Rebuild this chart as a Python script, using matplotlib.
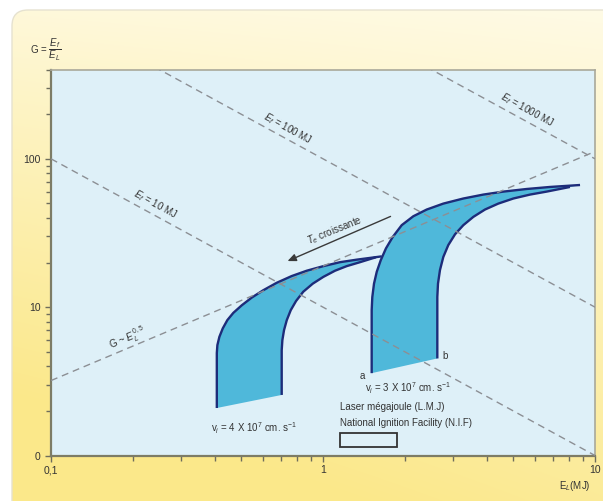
import numpy as np
import matplotlib
matplotlib.use("Agg")
import matplotlib.pyplot as plt
from matplotlib.patches import FancyBboxPatch, Rectangle

plt.rcParams["font.family"] = ["Liberation Sans", "DejaVu Sans"]
plt.rcParams["mathtext.fontset"] = "custom"
plt.rcParams["mathtext.rm"] = "Liberation Sans"
plt.rcParams["mathtext.it"] = "Liberation Sans:italic"
plt.rcParams["mathtext.bf"] = "Liberation Sans:bold"

# ---- data -------------------------------------------------------------
# fusion energy iso-lines (MJ): G = E_f / E_L
fusion_energies = [10, 100, 1000]
fusion_labels = [r"$E_f$ = 10 MJ", r"$E_f$ = 100 MJ", r"$E_f$ = 1000 MJ"]

# scaling reference line G ~ E_L^a (end points)
scaling_E = [0.1, 10.0]
scaling_G = [3.2, 112.0]

# v_i = 4e7 cm/s band
band1_outer_E = [0.407, 0.407, 0.409, 0.416, 0.428, 0.445, 0.468, 0.503, 0.547,
                 0.603, 0.676, 0.767, 0.871, 1.003, 1.155, 1.330, 1.644]
band1_outer_G = [2.09, 4.90, 5.55, 6.31, 7.19, 8.18, 9.15, 10.3, 11.6,
                 13.0, 14.6, 16.2, 17.6, 18.9, 20.1, 20.9, 22.0]
band1_inner_E = [0.705, 0.705, 0.709, 0.719, 0.736, 0.761, 0.796, 0.846,
                 0.917, 1.003, 1.107, 1.222, 1.368, 1.566]
band1_inner_G = [2.56, 5.13, 6.00, 7.00, 8.18, 9.54, 11.0, 12.7,
                 14.4, 16.0, 17.6, 18.9, 20.1, 21.7]

# v_i = 3e7 cm/s band
band2_outer_E = [1.510, 1.510, 1.518, 1.540, 1.576, 1.630, 1.704, 1.804, 1.947,
                 2.148, 2.406, 2.769, 3.28, 3.885, 4.60, 5.61, 6.83, 8.81]
band2_outer_G = [3.59, 9.54, 11.7, 14.4, 17.3, 20.7, 24.9, 29.7, 35.7,
                 41.0, 45.5, 49.9, 54.0, 57.4, 60.1, 62.6, 64.6, 66.6]
band2_inner_E = [2.632, 2.632, 2.647, 2.692, 2.769, 2.888, 3.058, 3.28,
                 3.57, 3.94, 4.41, 5.01, 5.77, 6.64, 8.09]
band2_inner_G = [4.51, 11.7, 14.4, 17.8, 21.8, 26.2, 31.0, 35.7,
                 40.6, 45.5, 49.9, 54.0, 57.4, 60.1, 64.6]

x_ticks = [0.1, 1, 10]
x_ticklabels = ["0,1", "1", "10"]
y_ticks = [1, 10, 100]
y_ticklabels = ["0", "10", "100"]

# ---- figure -------------------------------------------------------------
W, H = 603, 501
fig = plt.figure(figsize=(W / 100, H / 100), dpi=100, facecolor="white")

# rounded yellow card behind everything
bg = fig.add_axes([0, 0, 1, 1], zorder=-5)
bg.set_xlim(0, W)
bg.set_ylim(0, H)
bg.axis("off")
yy, xx = np.mgrid[0:H, 0:W]
v = 1 - yy / H
h = xx / W
s = np.clip(0.85 * (1 - v) ** 0.9 + 0.25 * (1 - h) * (1 - v) + 0.12 * (1 - h), 0, 1)
c_light = np.array([255, 251, 232]) / 255
c_yellow = np.array([251, 232, 138]) / 255
img = c_light[None, None, :] * (1 - s[..., None]) + c_yellow[None, None, :] * s[..., None]
im = bg.imshow(img, extent=[0, W, 0, H], origin="upper", aspect="auto")
card = FancyBboxPatch((12, -30), W + 20, H - 10 + 30,
                      boxstyle="round,pad=0,rounding_size=16",
                      facecolor="none", edgecolor="#e6e2d0", lw=1.0)
bg.add_patch(card)
im.set_clip_path(card)

ax = fig.add_axes([51 / W, 45.5 / H, 544 / W, 386 / H])
ax.set_facecolor("#def0f8")
ax.set_xscale("log")
ax.set_yscale("log")
ax.set_xlim(0.1, 10)
ax.set_ylim(1, 400)

E = np.logspace(-1, 1, 200)
dash = dict(color="#8c8f94", lw=1.0, ls=(0, (5, 3.5)), zorder=4)
for ef in fusion_energies:
    ax.plot(E, ef / E, **dash)
ax.plot(scaling_E, scaling_G, **dash)

band_face = "#4fb8da"
band_edge = "#1d2c7a"

def draw_band(oE, oG, iE, iG):
    px = list(oE) + list(iE[::-1])
    py = list(oG) + list(iG[::-1])
    ax.fill(px, py, facecolor=band_face, edgecolor="none", zorder=2)
    ax.plot(oE, oG, color=band_edge, lw=1.7, zorder=3, solid_capstyle="butt")
    ax.plot(iE, iG, color=band_edge, lw=1.7, zorder=3, solid_capstyle="butt")

draw_band(band1_outer_E, band1_outer_G, band1_inner_E, band1_inner_G)
draw_band(band2_outer_E, band2_outer_G, band2_inner_E, band2_inner_G)

# axes styling
for side in ["left", "bottom"]:
    ax.spines[side].set_color("#7d7c66")
    ax.spines[side].set_linewidth(1.6)
for side in ["top", "right"]:
    ax.spines[side].set_color("#a9a89a")
    ax.spines[side].set_linewidth(1.2)

ax.set_xticks(x_ticks, x_ticklabels)
ax.set_yticks(y_ticks, y_ticklabels)
ax.xaxis.set_minor_locator(matplotlib.ticker.LogLocator(base=10, subs=np.arange(2, 10)))
ax.yaxis.set_minor_locator(matplotlib.ticker.LogLocator(base=10, subs=np.arange(2, 10)))
ax.xaxis.set_minor_formatter(matplotlib.ticker.NullFormatter())
ax.yaxis.set_minor_formatter(matplotlib.ticker.NullFormatter())
ax.tick_params(which="both", direction="out", color="#6e6d5c", width=1.0,
               labelsize=7.5, labelcolor="#333333")
ax.tick_params(which="major", length=4)
ax.tick_params(which="minor", length=3.5)
ax.tick_params(axis="x", pad=3)

txt = dict(color="#333333", fontsize=7, zorder=6)
ang_ef = -28.6
ax.text(0.241, 49.4, fusion_labels[0], rotation=ang_ef, ha="center", va="center",
        rotation_mode="anchor", **txt)
ax.text(0.744, 160, fusion_labels[1], rotation=ang_ef, ha="center", va="center",
        rotation_mode="anchor", **txt)
ax.text(5.62, 212, fusion_labels[2], rotation=ang_ef, ha="center", va="center",
        rotation_mode="anchor", **txt)
ax.text(0.192, 6.18, r"G ~ $E_L^{\,0,5}$", rotation=22.5, ha="center", va="center",
        rotation_mode="anchor", **txt)

ax.annotate("", xy=(0.725, 20.1), xytext=(1.81, 41.6),
            arrowprops=dict(arrowstyle="-|>,head_length=0.5,head_width=0.22",
                            color="#3a3a3a", lw=1.0), zorder=6)
ax.text(1.107, 33.0, r"$T_e$ croissante", rotation=22, ha="center", va="center",
        rotation_mode="anchor", **txt)

ax.text(1.40, 3.43, "a", ha="center", va="center", **txt)
ax.text(2.81, 4.68, "b", ha="center", va="center", **txt)
ax.text(2.05, 2.85, r"v$_i$ = 3 X 10$^7$ cm. s$^{-1}$", ha="center", va="center", **txt)
ax.text(0.558, 1.532, r"v$_i$ = 4 X 10$^7$ cm. s$^{-1}$", ha="center", va="center", **txt)
ax.text(1.155, 2.12, "Laser mégajoule (L.M.J)", ha="left", va="center", **txt)
ax.text(1.155, 1.655, "National Ignition Facility (N.I.F)", ha="left", va="center", **txt)
ax.add_patch(Rectangle((0.531, 0.022), 0.105, 0.036, transform=ax.transAxes,
                       facecolor="none", edgecolor="#333333", lw=1.3, zorder=6))

fig.text(30 / W, 1 - 50 / H, r"G = $\dfrac{E_f}{E_L}$", ha="left", va="center",
         color="#333333", fontsize=7)
fig.text(575 / W, 1 - 486 / H, r"E$_L$(MJ)", ha="center", va="center",
         color="#333333", fontsize=7)

fig.savefig("out.png", dpi=100, facecolor=fig.get_facecolor())
